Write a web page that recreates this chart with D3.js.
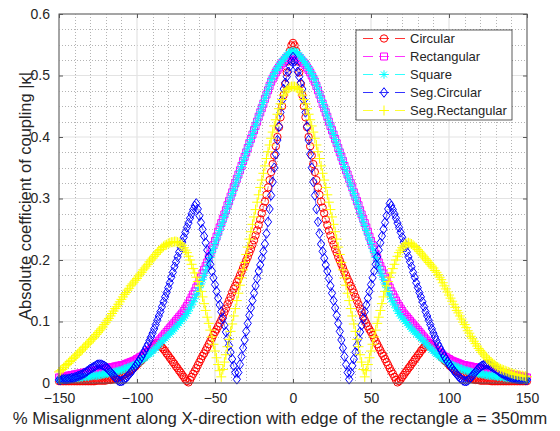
<!DOCTYPE html>
<html>
<head>
<meta charset="utf-8">
<script src="https://cdn.jsdelivr.net/npm/d3@7"></script>
<style>
  body { margin: 0; background: #fff; }
  svg text { font-family: "Liberation Sans", Arial, sans-serif; fill: #262626; }
</style>
</head>
<body>
<svg id="svgChart" width="560" height="431"></svg>
<script>
// % misalignment sample positions, -150 .. 150 step 1
const xPos = [
  -150,-149,-148,-147,-146,-145,-144,-143,-142,-141, -140,-139,-138,-137,-136,-135,-134,-133,-132,-131,
  -130,-129,-128,-127,-126,-125,-124,-123,-122,-121, -120,-119,-118,-117,-116,-115,-114,-113,-112,-111,
  -110,-109,-108,-107,-106,-105,-104,-103,-102,-101, -100,-99,-98,-97,-96,-95,-94,-93,-92,-91,
  -90,-89,-88,-87,-86,-85,-84,-83,-82,-81, -80,-79,-78,-77,-76,-75,-74,-73,-72,-71,
  -70,-69,-68,-67,-66,-65,-64,-63,-62,-61, -60,-59,-58,-57,-56,-55,-54,-53,-52,-51,
  -50,-49,-48,-47,-46,-45,-44,-43,-42,-41, -40,-39,-38,-37,-36,-35,-34,-33,-32,-31,
  -30,-29,-28,-27,-26,-25,-24,-23,-22,-21, -20,-19,-18,-17,-16,-15,-14,-13,-12,-11,
  -10,-9,-8,-7,-6,-5,-4,-3,-2,-1,
  0,
  1,2,3,4,5,6,7,8,9,10, 11,12,13,14,15,16,17,18,19,20, 21,22,23,24,25,26,27,28,29,30,
  31,32,33,34,35,36,37,38,39,40, 41,42,43,44,45,46,47,48,49,50, 51,52,53,54,55,56,57,58,59,60,
  61,62,63,64,65,66,67,68,69,70, 71,72,73,74,75,76,77,78,79,80, 81,82,83,84,85,86,87,88,89,90,
  91,92,93,94,95,96,97,98,99,100, 101,102,103,104,105,106,107,108,109,110, 111,112,113,114,115,116,117,118,119,120,
  121,122,123,124,125,126,127,128,129,130, 131,132,133,134,135,136,137,138,139,140, 141,142,143,144,145,146,147,148,149,150];

const circular = [
  .003,.003,.003,.003,.003,.003,.003,.003,.003,.003, .003,.003,.003,.003,.003,.003,.003,.003,.003,.003,
  .003,.003,.003,.003,.004,.004,.004,.004,.004,.004, .004,.005,.005,.005,.006,.006,.007,.008,.009,.010,
  .011,.012,.014,.015,.017,.019,.021,.023,.025,.027, .030,.032,.035,.037,.040,.043,.046,.049,.052,.055,
  .058,.061,.064,.065,.063,.061,.058,.055,.052,.048, .045,.041,.038,.034,.031,.027,.024,.020,.017,.013,
  .010,.006,.003,.001,.005,.010,.015,.019,.024,.029, .034,.039,.044,.048,.053,.058,.063,.068,.073,.078,
  .083,.087,.092,.097,.102,.108,.115,.121,.128,.134, .140,.147,.153,.158,.164,.169,.175,.181,.187,.193,
  .199,.205,.212,.218,.225,.232,.240,.248,.257,.266, .276,.285,.295,.306,.318,.330,.343,.356,.370,.385,
  .400,.416,.432,.450,.468,.486,.505,.523,.540,.549,
  .553,
  .549,.540,.523,.505,.486,.468,.450,.432,.416,.400, .385,.370,.356,.343,.330,.318,.306,.295,.285,.276,
  .266,.257,.248,.240,.232,.225,.218,.212,.205,.199, .193,.187,.181,.175,.169,.164,.158,.153,.147,.140,
  .134,.128,.121,.115,.108,.102,.097,.092,.087,.083, .078,.073,.068,.063,.058,.053,.048,.044,.039,.034,
  .029,.024,.019,.015,.010,.005,.001,.003,.006,.010, .013,.017,.020,.024,.027,.031,.034,.038,.041,.045,
  .048,.052,.055,.058,.061,.063,.065,.064,.061,.058, .055,.052,.049,.046,.043,.040,.037,.035,.032,.030,
  .027,.025,.023,.021,.019,.017,.015,.014,.012,.011, .010,.009,.008,.007,.006,.006,.005,.005,.005,.004,
  .004,.004,.004,.004,.004,.004,.003,.003,.003,.003, .003,.003,.003,.003,.003,.003,.003,.003,.003,.003,
  .003,.003,.003,.003,.003,.003,.003,.003,.003,.003];

const rectangular = [
  .009,.009,.010,.010,.011,.011,.012,.012,.013,.013, .014,.014,.015,.015,.016,.016,.017,.017,.018,.018,
  .019,.019,.020,.020,.021,.021,.022,.022,.023,.023, .024,.024,.025,.025,.026,.026,.027,.027,.028,.028,
  .029,.029,.030,.031,.032,.033,.034,.035,.036,.037, .039,.040,.042,.043,.045,.047,.049,.051,.053,.055,
  .058,.060,.063,.065,.068,.071,.074,.077,.080,.083, .086,.089,.092,.095,.098,.101,.104,.107,.110,.113,
  .117,.121,.125,.129,.134,.139,.144,.149,.155,.160, .166,.172,.178,.184,.190,.196,.203,.210,.217,.224,
  .231,.238,.246,.253,.260,.267,.274,.281,.289,.296, .303,.310,.318,.325,.332,.339,.346,.353,.361,.368,
  .375,.382,.390,.397,.404,.411,.418,.425,.433,.440, .447,.454,.462,.469,.476,.483,.490,.495,.500,.505,
  .509,.513,.517,.520,.523,.526,.529,.531,.533,.534,
  .535,
  .534,.533,.531,.529,.526,.523,.520,.517,.513,.509, .505,.500,.495,.490,.483,.476,.469,.462,.454,.447,
  .440,.433,.425,.418,.411,.404,.397,.390,.382,.375, .368,.361,.353,.346,.339,.332,.325,.318,.310,.303,
  .296,.289,.281,.274,.267,.260,.253,.246,.238,.231, .224,.217,.210,.203,.196,.190,.184,.178,.172,.166,
  .160,.155,.149,.144,.139,.134,.129,.125,.121,.117, .113,.110,.107,.104,.101,.098,.095,.092,.089,.086,
  .083,.080,.077,.074,.071,.068,.065,.063,.060,.058, .055,.053,.051,.049,.047,.045,.043,.042,.040,.039,
  .037,.036,.035,.034,.033,.032,.031,.030,.029,.029, .028,.028,.027,.027,.026,.026,.025,.025,.024,.024,
  .023,.023,.022,.022,.021,.021,.020,.020,.019,.019, .018,.018,.017,.017,.016,.016,.015,.015,.014,.014,
  .013,.013,.012,.012,.011,.011,.010,.010,.009,.009];

const square = [
  .005,.005,.006,.006,.006,.006,.007,.007,.007,.007, .008,.008,.008,.008,.009,.009,.010,.010,.010,.010,
  .011,.011,.012,.012,.012,.012,.013,.013,.014,.014, .015,.015,.016,.016,.017,.017,.018,.019,.020,.020,
  .021,.022,.023,.024,.025,.026,.027,.028,.029,.030, .032,.033,.035,.037,.039,.041,.043,.045,.047,.049,
  .052,.054,.057,.059,.062,.065,.068,.070,.073,.075, .078,.080,.083,.085,.088,.091,.094,.097,.100,.103,
  .106,.109,.113,.117,.122,.127,.132,.137,.143,.149, .155,.161,.168,.175,.182,.189,.197,.204,.212,.219,
  .227,.234,.241,.248,.256,.263,.271,.278,.286,.293, .301,.308,.315,.322,.330,.337,.345,.352,.360,.367,
  .375,.382,.389,.396,.404,.411,.419,.426,.434,.441, .449,.456,.463,.470,.478,.485,.493,.498,.503,.508,
  .512,.516,.520,.523,.527,.530,.533,.536,.538,.539,
  .540,
  .539,.538,.536,.533,.530,.527,.523,.520,.516,.512, .508,.503,.498,.493,.485,.478,.470,.463,.456,.449,
  .441,.434,.426,.419,.411,.404,.396,.389,.382,.375, .367,.360,.352,.345,.337,.330,.322,.315,.308,.301,
  .293,.286,.278,.271,.263,.256,.248,.241,.234,.227, .219,.212,.204,.197,.189,.182,.175,.168,.161,.155,
  .149,.143,.137,.132,.127,.122,.117,.113,.109,.106, .103,.100,.097,.094,.091,.088,.085,.083,.080,.078,
  .075,.073,.070,.068,.065,.062,.059,.057,.054,.052, .049,.047,.045,.043,.041,.039,.037,.035,.033,.032,
  .030,.029,.028,.027,.026,.025,.024,.023,.022,.021, .020,.020,.019,.018,.017,.017,.016,.016,.015,.015,
  .014,.014,.013,.013,.012,.012,.012,.012,.011,.011, .010,.010,.010,.010,.009,.009,.008,.008,.008,.008,
  .007,.007,.007,.007,.006,.006,.006,.006,.005,.005];

const segCircular = [
  .005,.005,.006,.006,.006,.006,.007,.007,.008,.008, .009,.010,.011,.012,.013,.014,.016,.017,.019,.021,
  .023,.024,.026,.027,.029,.030,.030,.030,.029,.028, .026,.024,.021,.018,.015,.012,.009,.006,.004,.003,
  .003,.004,.006,.008,.011,.014,.017,.020,.024,.027, .031,.035,.039,.043,.048,.053,.058,.063,.069,.075,
  .081,.088,.095,.102,.109,.116,.124,.132,.140,.147, .155,.163,.172,.180,.189,.197,.205,.213,.221,.229,
  .237,.245,.253,.260,.268,.275,.282,.288,.292,.283, .272,.261,.250,.239,.228,.216,.205,.193,.182,.171,
  .160,.149,.138,.127,.116,.105,.094,.083,.072,.061, .050,.039,.028,.017,.006,.017,.030,.043,.057,.070,
  .084,.097,.110,.122,.134,.146,.158,.170,.182,.192, .203,.214,.226,.243,.262,.283,.305,.327,.350,.372,
  .395,.417,.440,.460,.478,.488,.498,.506,.515,.523,
  .530,
  .523,.515,.506,.498,.488,.478,.460,.440,.417,.395, .372,.350,.327,.305,.283,.262,.243,.226,.214,.203,
  .192,.182,.170,.158,.146,.134,.122,.110,.097,.084, .070,.057,.043,.030,.017,.006,.017,.028,.039,.050,
  .061,.072,.083,.094,.105,.116,.127,.138,.149,.160, .171,.182,.193,.205,.216,.228,.239,.250,.261,.272,
  .283,.292,.288,.282,.275,.268,.260,.253,.245,.237, .229,.221,.213,.205,.197,.189,.180,.172,.163,.155,
  .147,.140,.132,.124,.116,.109,.102,.095,.088,.081, .075,.069,.063,.058,.053,.048,.043,.039,.035,.031,
  .027,.024,.020,.017,.014,.011,.008,.006,.004,.003, .003,.004,.006,.009,.012,.015,.018,.021,.024,.026,
  .028,.029,.030,.030,.030,.029,.027,.026,.024,.023, .021,.019,.017,.016,.014,.013,.012,.011,.010,.009,
  .008,.008,.007,.007,.006,.006,.006,.006,.005,.005];

const segRectangular = [
  .018,.020,.022,.025,.028,.030,.032,.035,.037,.040, .042,.045,.047,.050,.052,.055,.058,.060,.063,.065,
  .068,.071,.073,.076,.079,.082,.085,.088,.091,.095, .098,.102,.105,.109,.113,.117,.121,.124,.128,.132,
  .136,.140,.144,.147,.151,.154,.158,.161,.164,.167, .170,.174,.177,.180,.184,.187,.190,.193,.197,.200,
  .203,.206,.209,.212,.215,.217,.220,.222,.224,.225, .227,.228,.229,.229,.230,.230,.229,.228,.226,.224,
  .220,.216,.212,.206,.200,.193,.186,.179,.172,.165, .158,.149,.140,.129,.118,.107,.097,.086,.075,.063,
  .052,.041,.030,.020,.010,.022,.034,.046,.059,.071, .084,.096,.109,.121,.134,.146,.159,.171,.184,.196,
  .209,.221,.234,.246,.258,.270,.282,.294,.306,.318, .330,.341,.353,.365,.376,.387,.398,.408,.418,.428,
  .437,.446,.454,.461,.468,.473,.477,.479,.481,.482,
  .482,
  .482,.481,.479,.477,.473,.468,.461,.454,.446,.437, .428,.418,.408,.398,.387,.376,.365,.353,.341,.330,
  .318,.306,.294,.282,.270,.258,.246,.234,.221,.209, .196,.184,.171,.159,.146,.134,.121,.109,.096,.084,
  .071,.059,.046,.034,.022,.010,.020,.030,.041,.052, .063,.075,.086,.097,.107,.118,.129,.140,.149,.158,
  .165,.172,.179,.186,.193,.200,.206,.212,.216,.220, .223,.226,.227,.228,.227,.226,.224,.222,.220,.217,
  .214,.211,.208,.205,.202,.199,.196,.193,.190,.187, .183,.180,.176,.172,.168,.163,.158,.153,.148,.143,
  .138,.133,.128,.123,.118,.114,.109,.104,.099,.095, .090,.085,.081,.076,.072,.068,.064,.060,.056,.053,
  .050,.047,.044,.041,.038,.036,.034,.032,.030,.028, .026,.025,.023,.022,.021,.020,.019,.018,.017,.016,
  .015,.014,.014,.013,.013,.012,.012,.011,.011,.010];

const seriesNames = ["Circular", "Rectangular", "Square", "Seg.Circular", "Seg.Rectangular"];
const seriesValues = [circular, rectangular, square, segCircular, segRectangular];
const seriesColors = ["#ff0000", "#ff00ff", "#00ffff", "#0000ff", "#ffff00"];
const seriesMarkers = ["circle", "square", "asterisk", "diamond", "plus"];

const xTicks = [-150, -100, -50, 0, 50, 100, 150];
const yTicks = [0, 0.1, 0.2, 0.3, 0.4, 0.5, 0.6];

const xLabel = "% Misalignment along X-direction with edge of the rectangle a = 350mm";
const yLabel = "Absolute coefficient of coupling |\u03BA|";

var cp = {};
cp.width = 560;
cp.height = 431;
cp.margin = {top: 14, right: 33, bottom: 48, left: 59};

cp.markerPath = {
  square: "M-3.5,-3.5h7v7h-7z",
  asterisk: "M-4.2,0H4.2M0,-4.2V4.2M-3,-3L3,3M-3,3L3,-3",
  diamond: "M0,-4.8L3.6,0L0,4.8L-3.6,0Z",
  plus: "M-5,0H5M0,-5V5"
};

cp.drawMarker = (g, type, color) => {
  if (type === "circle") {
    g.append("circle").attr("r", 3.7)
      .attr("fill", "none").attr("stroke", color).attr("stroke-width", 1);
  } else {
    g.append("path").attr("d", cp.markerPath[type])
      .attr("fill", "none").attr("stroke", color).attr("stroke-width", 1);
  }
};

// shrink/grow a title so it spans the wanted width
cp.fitText = (sel, size, want) => {
  sel.attr("font-size", size);
  const len = sel.node().getComputedTextLength();
  if (len > 0) sel.attr("font-size", size * want / len);
};

cp.draw = () => {
  seriesValues.forEach((s, i) => {
    if (s.length !== xPos.length) throw new Error(seriesNames[i] + " has " + s.length + " values, x has " + xPos.length);
  });

  const svg = d3.select("#svgChart");
  const m = cp.margin;
  const x0 = m.left, x1 = cp.width - m.right, y0 = cp.height - m.bottom, y1 = m.top;

  const x = d3.scaleLinear().domain([-150, 150]).range([x0, x1]);
  const y = d3.scaleLinear().domain([0, 0.6]).range([y0, y1]);

  // grid: minor dotted, major solid
  const grid = svg.append("g");
  const minorX = d3.range(-140, 150, 10).filter(v => v % 50 !== 0);
  const minorY = d3.range(0.025, 0.6, 0.025).filter(v => Math.abs(v * 10 - Math.round(v * 10)) > 1e-6);
  grid.selectAll(".mx").data(minorX).enter().append("line")
    .attr("x1", d => Math.round(x(d)) + 0.5).attr("x2", d => Math.round(x(d)) + 0.5)
    .attr("y1", y1).attr("y2", y0)
    .attr("stroke", "#b4b4b4").attr("stroke-width", 1).attr("stroke-dasharray", "1,2");
  grid.selectAll(".my").data(minorY).enter().append("line")
    .attr("y1", d => Math.round(y(d)) + 0.5).attr("y2", d => Math.round(y(d)) + 0.5)
    .attr("x1", x0).attr("x2", x1)
    .attr("stroke", "#b4b4b4").attr("stroke-width", 1).attr("stroke-dasharray", "1,2");
  grid.selectAll(".gx").data(xTicks).enter().append("line")
    .attr("x1", d => x(d)).attr("x2", d => x(d)).attr("y1", y1).attr("y2", y0)
    .attr("stroke", "#e3e3e3").attr("stroke-width", 1.2);
  grid.selectAll(".gy").data(yTicks).enter().append("line")
    .attr("y1", d => y(d)).attr("y2", d => y(d)).attr("x1", x0).attr("x2", x1)
    .attr("stroke", "#e3e3e3").attr("stroke-width", 1.2);

  // series: dashed line + markers
  seriesValues.forEach((vals, i) => {
    const pts = xPos.map((xv, k) => [xv, vals[k]]);
    const line = d3.line().x(d => x(d[0])).y(d => y(d[1]));
    const g = svg.append("g");
    g.append("path").attr("d", line(pts))
      .attr("fill", "none").attr("stroke", seriesColors[i])
      .attr("stroke-width", 0.6).attr("stroke-dasharray", "6,4");
    pts.forEach(p => {
      const mg = g.append("g").attr("transform", `translate(${x(p[0])},${y(p[1])})`);
      cp.drawMarker(mg, seriesMarkers[i], seriesColors[i]);
    });
  });

  // axes with inward ticks on all four sides
  const axisCol = "#5a5a5a";
  const gb = svg.append("g").attr("transform", `translate(0,${y0})`)
    .call(d3.axisBottom(x).tickValues(xTicks).tickSize(-4).tickPadding(10).tickFormat(d3.format("d")));
  const gl = svg.append("g").attr("transform", `translate(${x0},0)`)
    .call(d3.axisLeft(y).tickValues(yTicks).tickSize(-4).tickPadding(9).tickFormat(d => d === 0 ? "0" : d3.format(".1f")(d)));
  const gt = svg.append("g").attr("transform", `translate(0,${y1})`)
    .call(d3.axisTop(x).tickValues(xTicks).tickSize(-4).tickFormat(""));
  const gr = svg.append("g").attr("transform", `translate(${x1},0)`)
    .call(d3.axisRight(y).tickValues(yTicks).tickSize(-4).tickFormat(""));
  [gb, gl, gt, gr].forEach(a => {
    a.select(".domain").remove();
    a.selectAll("line").attr("stroke", axisCol);
    a.selectAll("text").attr("font-size", 14).style("font-family", null).attr("fill", "#262626");
  });
  svg.append("rect").attr("x", x0).attr("y", y1).attr("width", x1 - x0).attr("height", y0 - y1)
    .attr("fill", "none").attr("stroke", axisCol).attr("stroke-width", 1);

  // axis titles
  const xt = svg.append("text").attr("x", 280).attr("y", 424).attr("text-anchor", "middle").text(xLabel);
  cp.fitText(xt, 16, 535);
  const yt = svg.append("text").attr("transform", "translate(31,196) rotate(-90)").attr("text-anchor", "middle").text(yLabel);
  cp.fitText(yt, 15.5, 248);

  // legend
  const lg = svg.append("g");
  lg.append("rect").attr("x", 356).attr("y", 30).attr("width", 156).attr("height", 90)
    .attr("fill", "#fff").attr("stroke", "#333").attr("stroke-width", 0.8);
  seriesNames.forEach((name, i) => {
    const ry = 38.5 + i * 18;
    lg.append("line").attr("x1", 363).attr("x2", 405).attr("y1", ry).attr("y2", ry)
      .attr("stroke", seriesColors[i]).attr("stroke-width", 0.8).attr("stroke-dasharray", "10,6");
    cp.drawMarker(lg.append("g").attr("transform", `translate(384,${ry})`), seriesMarkers[i], seriesColors[i]);
    lg.append("text").attr("x", 410).attr("y", ry + 4.5).attr("font-size", 13).text(name);
  });
};

cp.draw();
</script>
</body>
</html>
